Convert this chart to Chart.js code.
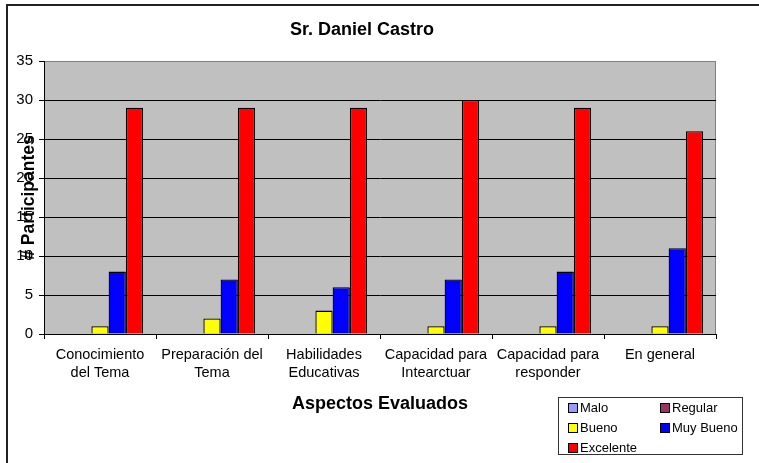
<!DOCTYPE html>
<html>
<head>
<meta charset="utf-8">
<script src="https://cdn.jsdelivr.net/npm/chart.js@4.4.1/dist/chart.umd.min.js"></script>
<style>
    html, body { margin: 0; padding: 0; width: 759px; height: 463px; overflow: hidden; background: #fff; }
    #frame {
        position: absolute; left: 6px; top: 4px;
        width: 800px; height: 500px;
        border-left: 2px solid #222; border-top: 2px solid #222;
    }
    #chart { position: absolute; left: 0; top: 0; }
    #legend {
        position: absolute; left: 558px; top: 397px;
        width: 185px; height: 58px; box-sizing: border-box;
        border: 1px solid #333; background: #fff;
        font-family: "Liberation Sans", Arial, sans-serif; font-size: 13px; color: #000;
    }
    .item { position: absolute; height: 16px; line-height: 16px; white-space: nowrap; }
    .item span.sw {
        display: inline-block; width: 8px; height: 8px; border: 1px solid #000;
        vertical-align: -1px; margin-right: 2px;
    }
</style>
</head>
<body>
<div id="frame"><canvas id="chart" width="760" height="457"></canvas></div>
<div id="legend"></div>
<script>
// Chart data
const categories = [
    ['Conocimiento', 'del Tema'],
    ['Preparación del', 'Tema'],
    ['Habilidades', 'Educativas'],
    ['Capacidad para', 'Intearctuar'],
    ['Capacidad para', 'responder'],
    ['En general']
];
const seriesNames = ['Malo', 'Regular', 'Bueno', 'Muy Bueno', 'Excelente'];
const malo = [0, 0, 0, 0, 0, 0];
const regular = [0, 0, 0, 0, 0, 0];
const bueno = [1, 2, 3, 1, 1, 1];
const muyBueno = [8, 7, 6, 7, 8, 11];
const excelente = [29, 29, 29, 30, 29, 26];
const yMax = 35;
const yStep = 5;

const seriesColors = ['#9999FF', '#993366', '#FFFF00', '#0000FF', '#FF0000'];
const FONT = '"Liberation Sans", Arial, sans-serif';

// Gray plot area with a thin gray frame, like the old Excel charts
const plotBackground = {
    id: 'plotBackground',
    beforeDraw(chart) {
        const { ctx, chartArea: a } = chart;
        ctx.save();
        ctx.fillStyle = '#C0C0C0';
        ctx.fillRect(a.left, a.top, a.right - a.left, a.bottom - a.top);
        ctx.strokeStyle = '#808080';
        ctx.lineWidth = 1;
        ctx.strokeRect(a.left + 0.5, a.top + 0.5, a.right - a.left - 1, a.bottom - a.top);
        ctx.restore();
    }
};

// Y axis title sits on top of the tick labels in the reference
const yTitle = {
    id: 'yTitle',
    afterDraw(chart) {
        const { ctx, chartArea: a } = chart;
        ctx.save();
        ctx.translate(21, (a.top + a.bottom) / 2);
        ctx.rotate(-Math.PI / 2);
        ctx.font = 'bold 17.5px ' + FONT;
        ctx.fillStyle = '#000';
        ctx.textAlign = 'center';
        ctx.textBaseline = 'middle';
        ctx.fillText('# Participantes', 0, 0);
        ctx.restore();
    }
};

const allSeries = [malo, regular, bueno, muyBueno, excelente];

const chart = new Chart(document.getElementById('chart'), {
    type: 'bar',
    data: {
        labels: categories,
        datasets: seriesNames.map((name, i) => ({
            label: name,
            data: allSeries[i],
            backgroundColor: seriesColors[i],
            borderColor: '#000',
            borderWidth: ctx => (ctx.raw === 0 ? 0 : 1.3),
            categoryPercentage: 0.77,
            barPercentage: 1.0
        }))
    },
    options: {
        responsive: false,
        animation: false,
        layout: { padding: { left: 0, right: 52, top: 0, bottom: 0 } },
        plugins: {
            legend: { display: false },
            tooltip: { enabled: false },
            title: {
                display: true,
                text: 'Sr. Daniel Castro',
                color: '#000',
                font: { family: FONT, size: 18, weight: 'bold', lineHeight: 1.2 },
                padding: { top: 13, bottom: 20.4 }
            }
        },
        scales: {
            x: {
                afterFit: scale => { scale.height = 129; },
                border: { display: true, color: '#000', width: 1 },
                grid: { offset: true, drawOnChartArea: false, drawTicks: true, tickLength: 5, color: '#000' },
                ticks: {
                    color: '#000',
                    padding: 7,
                    maxRotation: 0,
                    autoSkip: false,
                    font: { family: FONT, size: 14.5, lineHeight: '18px' }
                },
                title: {
                    display: true,
                    text: 'Aspectos Evaluados',
                    color: '#000',
                    font: { family: FONT, size: 18, weight: 'bold', lineHeight: 1.2 },
                    padding: { top: 0, bottom: 48 }
                }
            },
            y: {
                min: 0,
                max: yMax,
                afterFit: scale => { scale.width = 36; },
                border: { display: true, color: '#000', width: 1 },
                grid: {
                    color: ctx => (ctx.tick && ctx.tick.value === yMax ? '#808080' : '#000'),
                    tickColor: '#000',
                    drawTicks: true,
                    tickLength: 5
                },
                ticks: {
                    stepSize: yStep,
                    color: '#000',
                    padding: 6,
                    font: { family: FONT, size: 15 }
                }
            }
        }
    },
    plugins: [plotBackground, yTitle]
});

// Legend box: two columns, built from the chart's datasets
const legendEl = document.getElementById('legend');
const legendPos = [[9, 2], [101, 2], [9, 22], [101, 22], [9, 42]];
chart.data.datasets.forEach((ds, i) => {
    const item = document.createElement('div');
    item.className = 'item';
    item.style.left = legendPos[i][0] + 'px';
    item.style.top = legendPos[i][1] + 'px';
    const sw = document.createElement('span');
    sw.className = 'sw';
    sw.style.background = ds.backgroundColor;
    item.appendChild(sw);
    item.appendChild(document.createTextNode(ds.label));
    legendEl.appendChild(item);
});
</script>
</body>
</html>
